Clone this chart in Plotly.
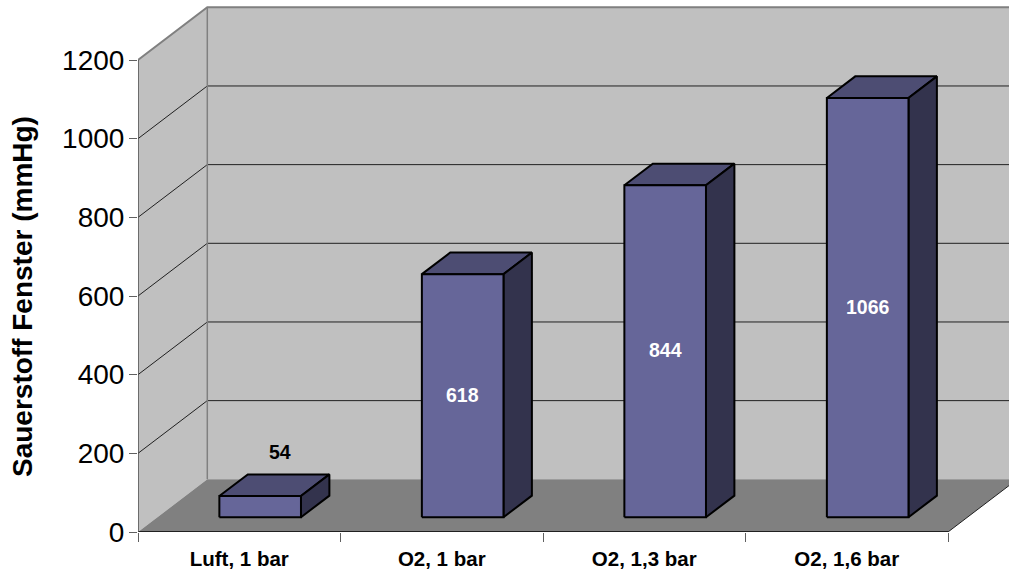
import plotly.graph_objects as go

# Chart content
categories = ["Luft, 1 bar", "O2, 1 bar", "O2, 1,3 bar", "O2, 1,6 bar"]
values = [54, 618, 844, 1066]
y_ticks = [0, 200, 400, 600, 800, 1000, 1200]
y_title = "Sauerstoff Fenster (mmHg)"

# Canvas and plot placement
WIDTH, HEIGHT = 1009, 569
LEFT, BOTTOM = 138, 37
CAT_PX = 202.5
VAL_PX = 472 / 1200

# Oblique projection of the box depth, in pixels
DEPTH_DX, DEPTH_DY = 69.3, 52.7
BAR_D0, BAR_D1 = 0.28, 0.69
BAR_X0, BAR_W = 0.306, 0.403
n_cat = len(categories)
y_max = y_ticks[-1]

# Palette
WALL, FLOOR, EDGE = "#C0C0C0", "#808080", "#808080"
FRONT, TOP, SIDE = "#666699", "#4D4D73", "#33334D"


def proj(x, y, d):
    """Map (category position, value, depth 0..1) to the flat axes."""
    return x + d * DEPTH_DX / CAT_PX, y + d * DEPTH_DY / VAL_PX


def poly(points, fill=None, line="black", width=1.0):
    xs, ys = zip(*[proj(*p) for p in points])
    return go.Scatter(
        x=xs, y=ys, mode="lines", hoverinfo="skip", showlegend=False,
        fill="toself" if fill else None, fillcolor=fill,
        line=dict(color=line, width=width),
    )


fig = go.Figure()

# Chart box: back wall, left wall, floor
fig.add_trace(poly([(0, 0, 1), (n_cat, 0, 1), (n_cat, y_max, 1), (0, y_max, 1), (0, 0, 1)], WALL, WALL, 0))
fig.add_trace(poly([(0, 0, 0), (0, 0, 1), (0, y_max, 1), (0, y_max, 0), (0, 0, 0)], WALL, WALL, 0))
fig.add_trace(poly([(0, 0, 0), (n_cat, 0, 0), (n_cat, 0, 1), (0, 0, 1), (0, 0, 0)], FLOOR, FLOOR, 0))

# Gridlines across both walls
for v in y_ticks[1:-1]:
    fig.add_trace(poly([(0, v, 0), (0, v, 1), (n_cat, v, 1)], None, "#202020", 1))

# Wall outlines
fig.add_trace(poly([(0, y_max, 0), (0, y_max, 1), (n_cat, y_max, 1)], None, EDGE, 2))
fig.add_trace(poly([(0, 0, 1), (0, y_max, 1)], None, EDGE, 1.5))
fig.add_trace(poly([(n_cat, 0, 0), (n_cat, 0, 1)], None, "#202020", 1))

# Bars, each drawn as top, side and front faces
for i, v in enumerate(values):
    x0, x1 = i + BAR_X0, i + BAR_X0 + BAR_W
    fig.add_trace(poly([(x0, v, BAR_D0), (x1, v, BAR_D0), (x1, v, BAR_D1), (x0, v, BAR_D1), (x0, v, BAR_D0)], TOP, "black", 2))
    fig.add_trace(poly([(x1, 0, BAR_D0), (x1, 0, BAR_D1), (x1, v, BAR_D1), (x1, v, BAR_D0), (x1, 0, BAR_D0)], SIDE, "black", 2))
    fig.add_trace(poly([(x0, 0, BAR_D0), (x1, 0, BAR_D0), (x1, v, BAR_D0), (x0, v, BAR_D0), (x0, 0, BAR_D0)], FRONT, "black", 2))

# Value labels on the front faces; the short bar carries its label above
annotations = []
for i, v in enumerate(values):
    cx, cy = proj(i + BAR_X0 + BAR_W / 2, v / 2, BAR_D0)
    short = v < 100
    annotations.append(dict(
        x=cx, y=cy, xref="x", yref="y", text=str(v), showarrow=False,
        xanchor="center", yanchor="middle",
        xshift=20 if short else 0, yshift=55 if short else 1,
        font=dict(family="Liberation Sans", size=19.5, color="black" if short else "white", weight="bold"),
    ))

# Axis title
annotations.append(dict(
    x=(22 - LEFT) / (WIDTH - LEFT), y=(HEIGHT - BOTTOM - 297) / (HEIGHT - BOTTOM),
    xref="paper", yref="paper", xanchor="center", yanchor="middle",
    text=y_title, showarrow=False, textangle=-90,
    font=dict(family="Liberation Sans", size=28, color="black", weight="bold"),
))

fig.update_layout(
    width=WIDTH, height=HEIGHT, autosize=False,
    margin=dict(l=LEFT, r=0, t=0, b=BOTTOM, pad=0),
    paper_bgcolor="white", plot_bgcolor="white", showlegend=False,
    annotations=annotations,
    xaxis=dict(
        range=[0, (WIDTH - LEFT) / CAT_PX], showgrid=False, zeroline=False, showline=False,
        tickmode="array", tickvals=[i + 0.5 for i in range(n_cat)], ticktext=categories,
        ticks="", ticklabelstandoff=12,
        tickfont=dict(family="Liberation Sans", size=20.5, color="black", weight="bold"),
        minor=dict(tickmode="array", tickvals=list(range(n_cat + 1)), ticks="outside",
                   ticklen=9, tickwidth=1, tickcolor="#606060", showgrid=False),
    ),
    yaxis=dict(
        range=[0, (HEIGHT - BOTTOM) / VAL_PX], showgrid=False, zeroline=False, showline=False,
        tickmode="array", tickvals=y_ticks, ticks="outside", ticklen=8, tickwidth=1,
        tickcolor="#606060", ticklabelstandoff=-1,
        tickfont=dict(family="Liberation Sans", size=28, color="black"),
    ),
)

# Front axis lines sit on the edge of the plot area
fig.add_trace(go.Scatter(x=[0, n_cat], y=[0, 0], mode="lines", cliponaxis=False, hoverinfo="skip",
                         showlegend=False, line=dict(color="black", width=1.5)))
fig.add_trace(go.Scatter(x=[0, 0], y=[0, y_max], mode="lines", cliponaxis=False, hoverinfo="skip",
                         showlegend=False, line=dict(color="#505050", width=1.5)))

fig.write_html("out.html", config=dict(displayModeBar=False))
